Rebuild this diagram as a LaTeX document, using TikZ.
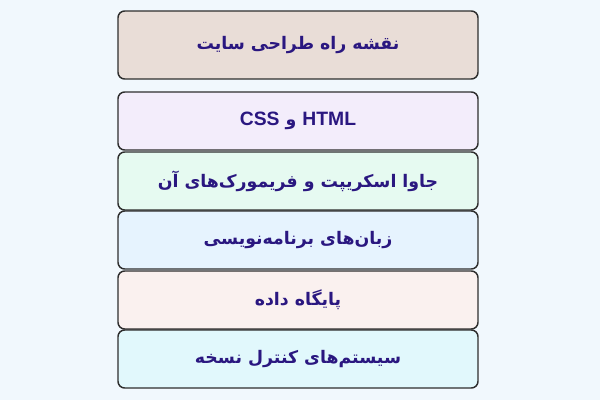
\documentclass[tikz,border=0pt]{standalone}
\usepackage{fontspec}
\setmainfont{DejaVu Sans}
\newfontfamily\arabicfont[Script=Arabic]{DejaVu Sans}
\newfontfamily\latinfont{Liberation Sans}
\TeXXeTstate=1
\definecolor{pagebg}{HTML}{F1F8FD}
\definecolor{inkblue}{HTML}{2A1780}
\definecolor{edgegray}{HTML}{2E2E2E}
\definecolor{roadfill}{HTML}{E9DDD7}
\definecolor{htmlfill}{HTML}{F3EDFB}
\definecolor{jsfill}{HTML}{E6FAF1}
\definecolor{langfill}{HTML}{E6F3FE}
\definecolor{dbfill}{HTML}{FAF1EF}
\definecolor{vcsfill}{HTML}{E1F8FC}
\tikzset{every picture/.style={line width=0.75pt}}
\tikzset{
	stagebox/.style={draw=edgegray, line width=1.1pt, rounded corners=5pt,
		minimum width=270pt, minimum height=43.5pt, inner sep=0pt,
		text=inkblue, font=\arabicfont\bfseries\fontsize{13}{15}\selectfont},
	titlebox/.style={stagebox, minimum height=51pt}
}
\newcommand{\lat}[1]{{\latinfont\bfseries\fontsize{14.5}{15}\selectfont\beginL #1\endL}}

\begin{document}
\begin{tikzpicture}[x=0.75pt,y=0.75pt,yscale=-1,xscale=1]
	%set diagram to 600 x 400
	\fill [pagebg] (0,0) rectangle (600,400);
	\useasboundingbox (0,0) rectangle (600,400);
	
	% Title
	\draw (298,45) node [titlebox, fill=roadfill] (road) {\beginR نقشه راه طراحی سایت\endR};
	
	% Stages
	\draw (298,121) node [stagebox, fill=htmlfill] (html) {\beginR \lat{HTML} و \lat{CSS}\endR};
	\draw (298,181) node [stagebox, fill=jsfill] (js) {\beginR جاوا اسکریپت و فریمورک‌های آن\endR};
	\draw (298,240) node [stagebox, fill=langfill] (lang) {\beginR زبان‌های برنامه‌نویسی\endR};
	\draw (298,300) node [stagebox, fill=dbfill] (db) {\beginR پایگاه داده\endR};
	\draw (298,359) node [stagebox, fill=vcsfill] (vcs) {\beginR سیستم‌های کنترل نسخه\endR};
	
\end{tikzpicture}
\end{document}
